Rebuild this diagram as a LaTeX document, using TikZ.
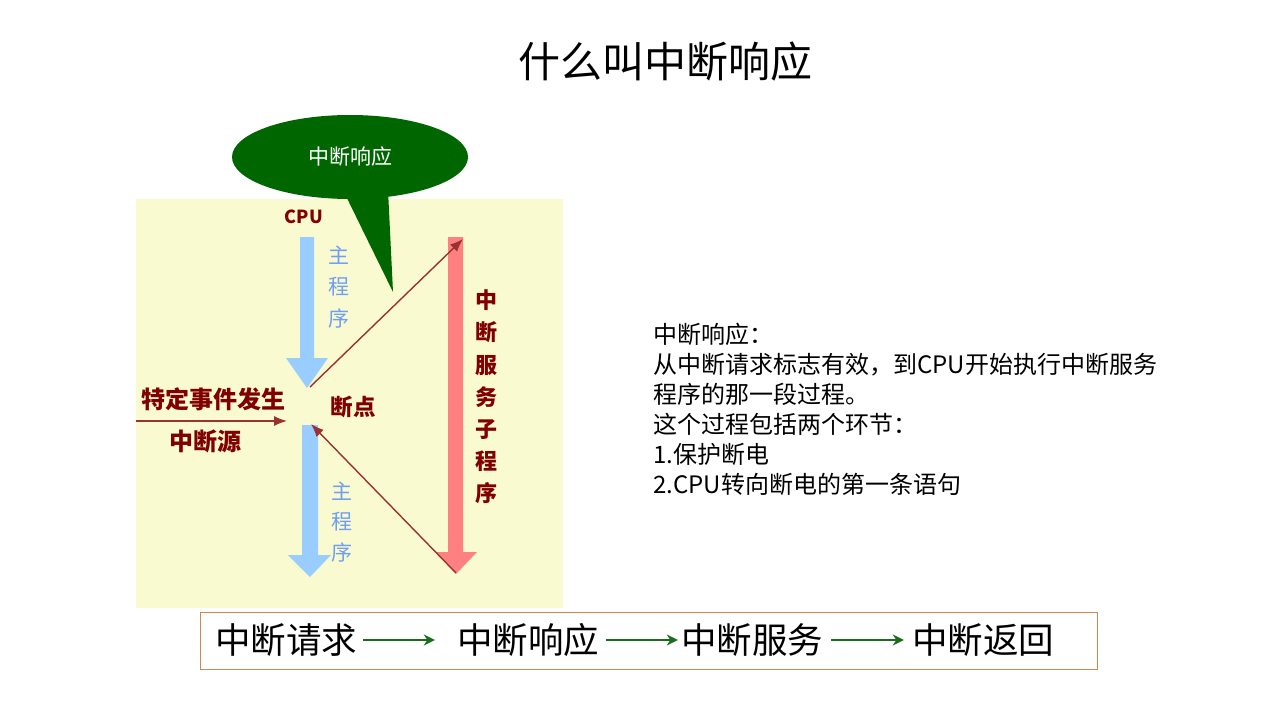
\documentclass[tikz,border=0pt]{standalone}
\usepackage{fontspec}
\setmainfont{Noto Sans CJK SC}
\usetikzlibrary{arrows.meta,shapes.geometric}
\definecolor{bgyel}{HTML}{F9FACF}
\definecolor{callgreen}{HTML}{006600}
\definecolor{mainblue}{HTML}{99CCFF}
\definecolor{bluetxt}{HTML}{6E9EF5}
\definecolor{isrred}{HTML}{FF8080}
\definecolor{darkred}{HTML}{800000}
\definecolor{linebrown}{HTML}{993333}
\definecolor{boxedge}{HTML}{D08850}
\definecolor{flowgreen}{HTML}{1A6E1A}
\tikzset{
  redlbl/.style={text=darkred, font=\bfseries\fontsize{24}{28}\selectfont, inner sep=0},
  vblue/.style={text=bluetxt, align=center, inner sep=0},
  brownarrow/.style={draw=linebrown, line width=1.4pt, -{Latex[length=13pt,width=10pt]}},
  flowtxt/.style={font=\fontsize{35.5}{40}\selectfont, inner sep=3pt},
  flowarrow/.style={draw=flowgreen, line width=2.8pt, -{Stealth[length=11pt,width=11pt]}}
}
\begin{document}
\begin{tikzpicture}[x=1pt,y=-1pt]
\useasboundingbox[fill=white] (0,0) rectangle (1280,720);

% title
\node[font=\fontsize{42}{50}\selectfont] (title) at (665,62) {什么叫中断响应};

% yellow panel
\fill[bgyel] (136,199) rectangle (563,608);

% callout
\fill[callgreen] (343,190) -- (393,292) -- (388,190) -- cycle;
\node[ellipse, fill=callgreen, minimum width=236pt, minimum height=84pt, inner sep=0,
      text=white, font=\fontsize{21}{24}\selectfont] (callout) at (350,157) {中断响应};

% CPU label
\node[redlbl, font=\bfseries\fontsize{18}{20}\selectfont] (cpu) at (304,217) {CPU};

% main program arrows (blue)
\fill[mainblue] (300,237) -- (314,237) -- (314,358) -- (328,358) -- (307,388) -- (286,358) -- (300,358) -- cycle;
\fill[mainblue] (302,425) -- (318,425) -- (318,555) -- (331,555) -- (310,577) -- (288,555) -- (302,555) -- cycle;
\node[vblue, font=\fontsize{21}{31.5}\selectfont] (main1) at (339,287) {主\\程\\序};
\node[vblue, font=\fontsize{21}{30.5}\selectfont] (main2) at (342,522) {主\\程\\序};

% ISR arrow (red)
\fill[isrred] (448,237) -- (463,237) -- (463,552) -- (477,552) -- (456,574) -- (436,552) -- (448,552) -- cycle;
\node[text=darkred, align=center, inner sep=0, font=\bfseries\fontsize{22}{32.2}\selectfont] (isr) at (486,397) {中\\断\\服\\务\\子\\程\\序};

% breakpoint and source
\node[redlbl, font=\bfseries\fontsize{22.5}{26}\selectfont] (bp) at (353,407) {断点};
\node[redlbl] (event) at (213,399) {特定事件发生};
\node[redlbl] (src) at (205,441) {中断源};

\coordinate (srcstart) at (136,421);
\coordinate (bpin) at (287,421);
\coordinate (bptop) at (310,387);
\coordinate (isrtop) at (463,239);
\coordinate (isrbot) at (456,573);
\coordinate (bpbot) at (311,424);

\draw[brownarrow] (srcstart) -- (bpin);
\draw[brownarrow] (bptop) -- (isrtop);
\draw[brownarrow] (isrbot) -- (bpbot);

% explanation text
\node[anchor=north west, align=left, inner sep=0, font=\fontsize{24}{30}\selectfont] (expl) at (653,323)
{中断响应：\\
从中断请求标志有效，到CPU开始执行中断服务\\
程序的那一段过程。\\
这个过程包括两个环节：\\
1.保护断电\\
2.CPU转向断电的第一条语句};

% flow box
\draw[boxedge, line width=0.8pt] (200,612) rectangle (1097,669);
\node[flowtxt] (f1) at (286,640) {中断请求};
\node[flowtxt] (f2) at (528,640) {中断响应};
\node[flowtxt] (f3) at (752,640) {中断服务};
\node[flowtxt] (f4) at (983,640) {中断返回};
\draw[flowarrow, shorten <=3pt, shorten >=19pt] (f1.east) -- (f2.west);
\draw[flowarrow, shorten <=4pt, shorten >=0pt] (f2.east) -- (f3.west);
\draw[flowarrow, shorten <=5pt, shorten >=5pt] (f3.east) -- (f4.west);
\end{tikzpicture}
\end{document}
